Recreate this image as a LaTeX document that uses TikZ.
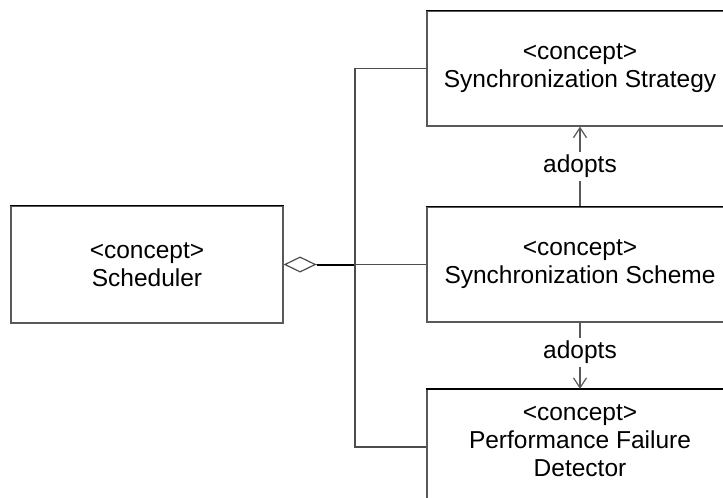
\documentclass[tikz,border=0pt]{standalone}
\usepackage{fontspec}
\setmainfont{Liberation Sans}
\usetikzlibrary{arrows.meta}

\tikzset{
  concept/.style={draw=black!65, line width=0.6pt, minimum width=153pt, minimum height=57.5pt,
    align=center, inner sep=0pt, font=\fontsize{12.25}{14}\selectfont},
  toprule/.style={black, line width=0.9pt},
  wire/.style={draw=black!70, line width=0.6pt},
  adopts/.style={draw=black!65, line width=0.6pt, -{Straight Barb[length=5pt,width=6.5pt]}},
  lbl/.style={fill=white, inner sep=1.5pt, font=\fontsize{12.25}{14}\selectfont},
}

\begin{document}
\begin{tikzpicture}[x=0.5pt, y=-0.5pt]
    \useasboundingbox (0,0) rectangle (723,498);
    \clip (0,0) rectangle (723,498);

    % Concepts
    \node[concept, minimum width=136pt, minimum height=58.5pt] (scheduler) at (147,264.5) {<concept>\\Scheduler};
    \node[concept] (strategy) at (580,68.5) {<concept>\\Synchronization Strategy};
    \node[concept] (scheme) at (580,264.5) {<concept>\\Synchronization Scheme};
    \node[concept] (detector) at (580,447) {};
    \node[align=center, inner sep=0pt, font=\fontsize{12.25}{14}\selectfont] (detectortext) at (580,441)
        {<concept>\\Performance Failure\\Detector};
    \foreach \n in {scheduler,strategy,scheme,detector}
        \draw[toprule] (\n.north west) -- (\n.north east);

    % Aggregation
    \coordinate (junction) at (355,264.5);
    \draw[wire, {Diamond[open,length=16.5pt,width=8pt]}-] (scheduler.east) -- (junction);
    \draw[black, line width=1pt] ([xshift=16.5pt]scheduler.east) -- (junction);
    \draw[wire] (junction) -- (scheme.west);
    \draw[wire] (junction) |- (strategy.west);
    \draw[wire] (junction) |- (detector.west);

    % Dependencies
    \draw[adopts] (scheme.north) -- node[lbl] (adoptsup) {adopts} (strategy.south);
    \draw[adopts] (scheme.south) -- node[lbl, pos=0.45] (adoptsdown) {adopts} (detector.north);
\end{tikzpicture}
\end{document}
